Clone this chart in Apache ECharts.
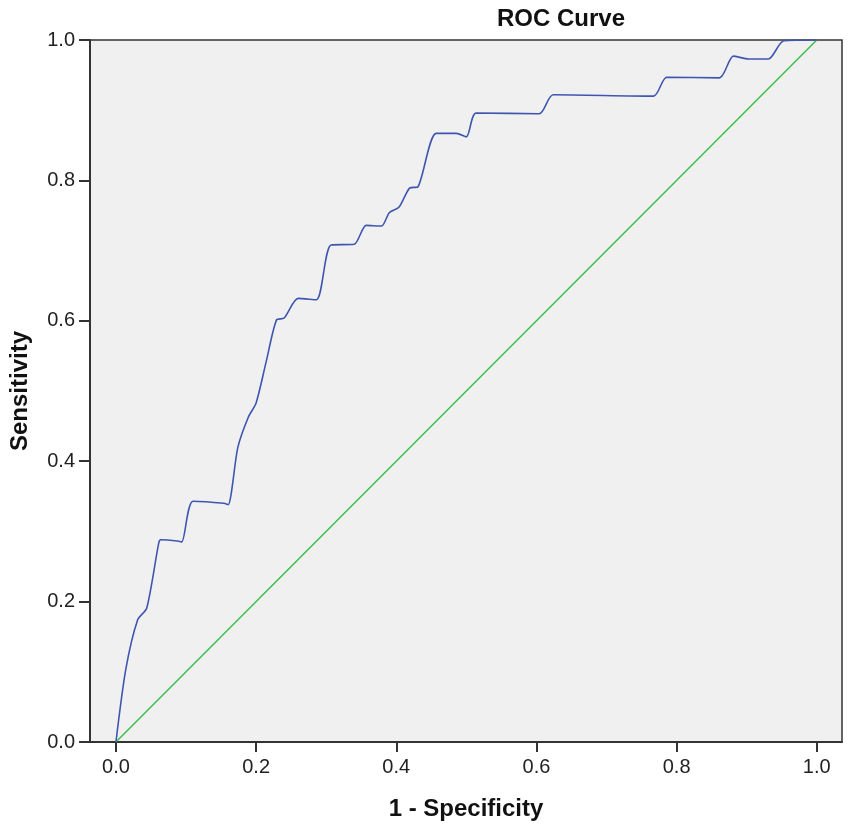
<!DOCTYPE html>
<html>
<head>
<meta charset="utf-8" />
<title>ROC Curve</title>
<script src="https://cdn.jsdelivr.net/npm/echarts@6/dist/echarts.min.js"></script>
<style>
  html, body { margin: 0; padding: 0; background: #fff; }
  #chart { width: 851px; height: 834px; }
</style>
</head>
<body>
<div id="chart"></div>
<script type="text/javascript">
// 1 - specificity (x) and sensitivity (y)
var fpr = [0, 0.014, 0.031, 0.044, 0.061, 0.064, 0.090, 0.094, 0.110, 0.154, 0.160,
  0.174, 0.189, 0.200, 0.214, 0.229, 0.240, 0.260, 0.286, 0.307, 0.340, 0.357,
  0.379, 0.390, 0.404, 0.419, 0.431, 0.457, 0.486, 0.500, 0.514, 0.604, 0.624,
  0.767, 0.786, 0.861, 0.881, 0.903, 0.931, 0.953, 1.0];
var tpr = [0, 0.103, 0.174, 0.191, 0.283, 0.288, 0.286, 0.285, 0.343, 0.340, 0.338,
  0.420, 0.463, 0.483, 0.540, 0.601, 0.604, 0.632, 0.630, 0.708, 0.709, 0.736,
  0.735, 0.754, 0.762, 0.789, 0.791, 0.867, 0.867, 0.862, 0.896, 0.895, 0.922,
  0.920, 0.947, 0.946, 0.977, 0.973, 0.973, 0.999, 1.0];
// reference line
var refX = [0, 1];
var refY = [0, 1];
var tickVals = [0, 0.2, 0.4, 0.6, 0.8, 1.0];

function zip(a, b) {
  var out = [];
  for (var i = 0; i < a.length; i++) out.push([a[i], b[i]]);
  return out;
}

var FONT = 'Liberation Sans, Arial, sans-serif';
var myChart = echarts.init(document.getElementById('chart'));
var option = {
  animation: false,
  backgroundColor: '#fff',
  title: {
    text: 'ROC Curve',
    left: 556,
    top: 2,
    textAlign: 'center',
    textStyle: { fontFamily: FONT, fontSize: 24, fontWeight: 'bold', color: '#111' }
  },
  grid: {
    left: 89, right: 9, top: 40, bottom: 92,
    show: true,
    backgroundColor: '#f0f0f0',
    borderColor: '#333',
    borderWidth: 1.5
  },
  xAxis: {
    type: 'value',
    min: -0.037,
    max: 1.036,
    name: '1 - Specificity',
    nameLocation: 'middle',
    nameGap: 55,
    nameTextStyle: { fontFamily: FONT, fontSize: 24, fontWeight: 'bold', color: '#111' },
    splitLine: { show: false },
    axisLine: { show: true, onZero: false, lineStyle: { color: '#333', width: 2 } },
    axisTick: { show: true, inside: false, length: 10, customValues: tickVals,
      lineStyle: { color: '#333', width: 2 } },
    axisLabel: {
      customValues: tickVals,
      margin: 15,
      fontFamily: FONT, fontSize: 20, color: '#222',
      formatter: function (v) { return v.toFixed(1); }
    }
  },
  yAxis: {
    type: 'value',
    min: 0,
    max: 1,
    interval: 0.2,
    name: 'Sensitivity',
    nameLocation: 'middle',
    nameGap: 58,
    nameTextStyle: { fontFamily: FONT, fontSize: 24, fontWeight: 'bold', color: '#111' },
    splitLine: { show: false },
    axisLine: { show: true, onZero: false, lineStyle: { color: '#333', width: 2 } },
    axisTick: { show: true, inside: false, length: 11, lineStyle: { color: '#333', width: 2 } },
    axisLabel: {
      margin: 15,
      fontFamily: FONT, fontSize: 20, color: '#222',
      formatter: function (v) { return v.toFixed(1); }
    }
  },
  series: [{
    name: 'Reference',
    type: 'line',
    data: zip(refX, refY),
    showSymbol: false,
    lineStyle: { color: '#3cbf4a', width: 1.5 },
    z: 2
  }, {
    name: 'ROC',
    type: 'line',
    data: zip(fpr, tpr),
    showSymbol: false,
    smooth: 0.25,
    lineStyle: { color: '#3f56b0', width: 1.6 },
    z: 3
  }]
};
myChart.setOption(option);
</script>
</body>
</html>
